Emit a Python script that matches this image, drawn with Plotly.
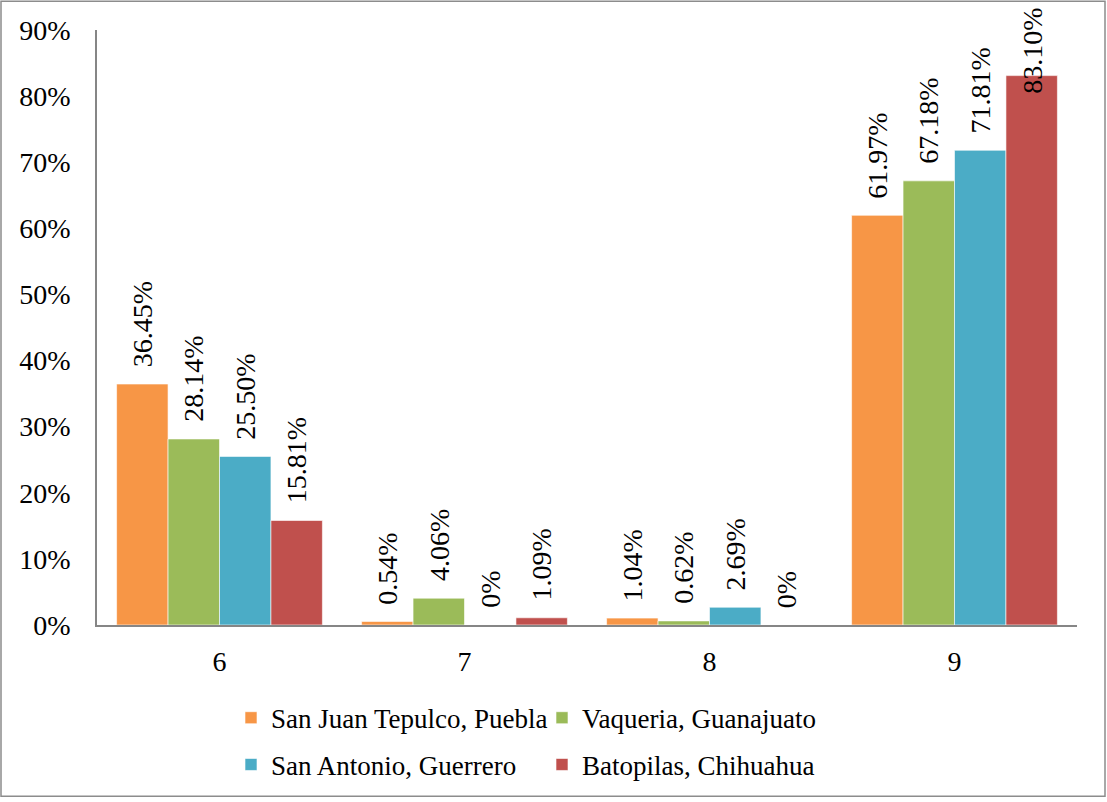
import plotly.graph_objects as go

# Category labels and series values (percent)
categories = ["6", "7", "8", "9"]
series_names = [
    "San Juan Tepulco, Puebla",
    "Vaqueria, Guanajuato",
    "San Antonio, Guerrero",
    "Batopilas, Chihuahua",
]
san_juan = [36.45, 0.54, 1.04, 61.97]
vaqueria = [28.14, 4.06, 0.62, 67.18]
san_antonio = [25.50, 0.0, 2.69, 71.81]
batopilas = [15.81, 1.09, 0.0, 83.10]
label_texts = [
    ["36.45%", "0.54%", "1.04%", "61.97%"],
    ["28.14%", "4.06%", "0.62%", "67.18%"],
    ["25.50%", "0%", "2.69%", "71.81%"],
    ["15.81%", "1.09%", "0%", "83.10%"],
]
colors = ["#F79646", "#9BBB59", "#4BACC6", "#C0504D"]

FONT = "Liberation Serif"
W, H = 1107, 802
ML, MR, MT, MB = 97, 30, 30, 174
BARGAP = 0.16
Y_MAX = 90

all_values = [san_juan, vaqueria, san_antonio, batopilas]
legend_ids = ["legend", "legend", "legend2", "legend2"]

fig = go.Figure()
for name, vals, col, lg in zip(series_names, all_values, colors, legend_ids):
    fig.add_trace(go.Bar(
        x=categories,
        y=[v / 100 for v in vals],
        name=name,
        marker=dict(color=col, line=dict(color="rgba(255,255,255,0.6)", width=1)),
        legend=lg,
    ))

# Rotated value labels above each bar
n = len(all_values)
bw = (1 - BARGAP) / n
annotations = []
for j, (vals, texts) in enumerate(zip(all_values, label_texts)):
    for i, (v, t) in enumerate(zip(vals, texts)):
        xpos = i + (j - (n - 1) / 2) * bw
        if v > 78:
            # not enough room above: keep the label inside the chart frame
            annotations.append(dict(
                x=xpos, y=1, xref="x", yref="paper", text=t, textangle=-90,
                showarrow=False, xanchor="center", yanchor="top", yshift=24,
                font=dict(family=FONT, size=28, color="black"),
            ))
        else:
            annotations.append(dict(
                x=xpos, y=v / 100, xref="x", yref="y", text=t, textangle=-90,
                showarrow=False, xanchor="center", yanchor="bottom", yshift=15,
                font=dict(family=FONT, size=28, color="black"),
            ))

pw = W - ML - MR
ph = H - MT - MB
# outer frame around the whole chart
shapes = [dict(
    type="rect", xref="paper", yref="paper",
    x0=(1 - ML) / pw, x1=(W - 2 - ML) / pw,
    y0=-(MB - 2) / ph, y1=1 + (MT - 1) / ph,
    line=dict(color="#8C8C8C", width=1.5), fillcolor="rgba(0,0,0,0)",
)]

legend_style = dict(
    orientation="h", x=(231 - ML) / pw, xanchor="left", yanchor="top",
    entrywidth=266, entrywidthmode="pixels",
    font=dict(family=FONT, size=27, color="black"),
    bgcolor="rgba(0,0,0,0)",
)

fig.update_layout(
    width=W, height=H,
    margin=dict(l=ML, r=MR, t=MT, b=MB),
    paper_bgcolor="white", plot_bgcolor="white",
    barmode="group", bargap=BARGAP, bargroupgap=0,
    font=dict(family=FONT, size=28, color="black"),
    annotations=annotations,
    shapes=shapes,
    legend=dict(legend_style, y=-(697 - (H - MB)) / ph),
    legend2=dict(legend_style, y=-(744 - (H - MB)) / ph),
    xaxis=dict(
        type="category", showgrid=False, showline=True,
        linecolor="#868686", linewidth=1.5, ticks="",
        ticklabelstandoff=11,
        tickfont=dict(family=FONT, size=28),
    ),
    yaxis=dict(
        range=[0, Y_MAX / 100], dtick=0.1, tickformat=".0%",
        showgrid=False, zeroline=False, showline=True,
        linecolor="#868686", linewidth=1.5, ticks="",
        ticklabelstandoff=19,
        tickfont=dict(family=FONT, size=28),
    ),
)

fig.write_html("out.html")
